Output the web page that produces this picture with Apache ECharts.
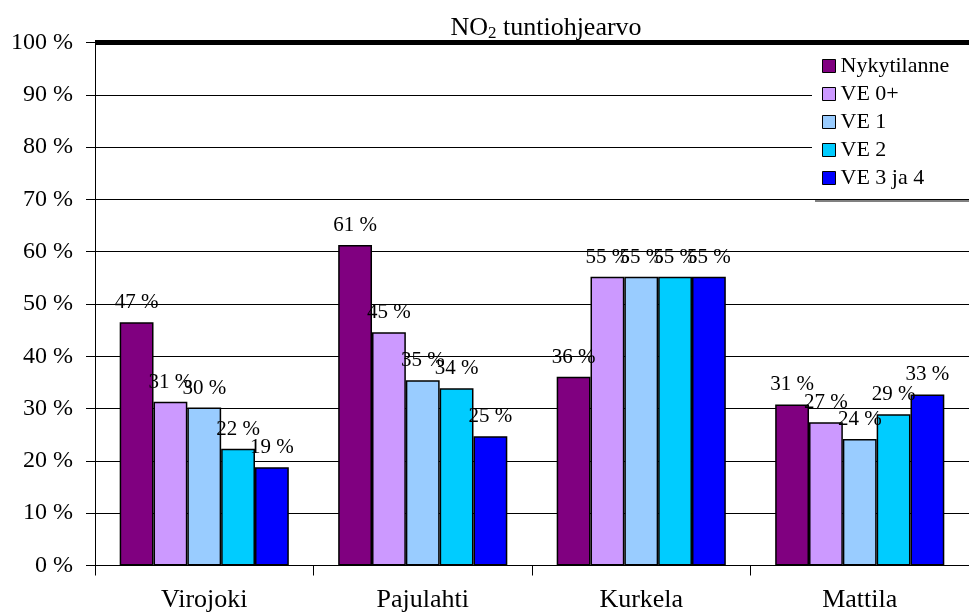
<!DOCTYPE html>
<html>
<head>
<meta charset="utf-8">
<script src="https://cdn.jsdelivr.net/npm/echarts@6/dist/echarts.min.js"></script>
<style>
  html, body { margin: 0; padding: 0; background: #fff; }
  #chart { width: 969px; height: 616px; }
</style>
</head>
<body>
<div id="chart"></div>
<script>
const categories = ['Virojoki', 'Pajulahti', 'Kurkela', 'Mattila']
const seriesNames = ['Nykytilanne', 'VE 0+', 'VE 1', 'VE 2', 'VE 3 ja 4']
const nykytilanne = [46.5, 61.3, 36.1, 30.8]
const ve0plus = [31.3, 44.6, 55.2, 27.4]
const ve1 = [30.2, 35.4, 55.2, 24.2]
const ve2 = [22.3, 33.9, 55.2, 28.9]
const ve3ja4 = [18.8, 24.7, 55.2, 32.7]
const yTicks = [0, 10, 20, 30, 40, 50, 60, 70, 80, 90, 100]
const colors = ['#800080', '#cc99ff', '#99ccff', '#00ccff', '#0000ff']

const font = 'Liberation Serif'
const values = [nykytilanne, ve0plus, ve1, ve2, ve3ja4]

let myChart = echarts.init(document.getElementById('chart'))
let option = {
  animation: false,
  color: colors,
  title: {
    text: 'NO{sub|2} tuntiohjearvo',
    left: 541,
    top: 10,
    textAlign: 'center',
    textStyle: {
      fontFamily: font,
      fontSize: 26,
      fontWeight: 'normal',
      color: '#000',
      rich: {
        sub: { fontFamily: font, fontSize: 17, color: '#000', verticalAlign: 'bottom', padding: [10, 0, 0, 0] }
      }
    }
  },
  grid: {
    left: 95,
    top: 42.5,
    width: 886,
    height: 523
  },
  legend: {
    orient: 'vertical',
    left: 812,
    top: 51,
    padding: [4, 20, 10, 10],
    backgroundColor: '#fff',
    itemWidth: 13,
    itemHeight: 13,
    itemGap: 6,
    icon: 'rect',
    itemStyle: { borderColor: '#000', borderWidth: 1 },
    textStyle: { fontFamily: font, fontSize: 22, color: '#000' },
    data: seriesNames
  },
  graphic: [
    {
      type: 'line',
      shape: { x1: 815, y1: 201, x2: 969, y2: 201 },
      style: { stroke: '#808080', lineWidth: 2 },
      z: 100
    }
  ],
  xAxis: {
    type: 'category',
    data: categories,
    axisLine: { lineStyle: { color: '#000', width: 1 } },
    axisTick: { show: true, length: 10, lineStyle: { color: '#000' } },
    axisLabel: { fontFamily: font, fontSize: 26, color: '#000', margin: 22 }
  },
  yAxis: {
    type: 'value',
    min: 0,
    max: 100,
    interval: 10,
    axisLine: { show: true, lineStyle: { color: '#000' } },
    axisTick: { show: true, length: 9, lineStyle: { color: '#000' } },
    axisLabel: {
      fontFamily: font,
      fontSize: 24,
      color: '#000',
      margin: 22,
      formatter: (val) => yTicks.includes(val) ? val + ' %' : ''
    },
    splitLine: { show: true, lineStyle: { color: '#000', width: 1 } }
  },
  series: seriesNames.map((name, i) => {
    return {
      name: name,
      type: 'bar',
      data: values[i],
      barGap: '0%',
      barCategoryGap: '22.6%',
      itemStyle: { borderColor: '#000', borderWidth: 1.5 },
      label: {
        show: true,
        position: 'top',
        distance: 9,
        fontFamily: font,
        fontSize: 21,
        color: '#000',
        formatter: (p) => Math.round(p.value) + ' %'
      },
      markLine: i === 0 ? {
        silent: true,
        symbol: 'none',
        label: { show: false },
        lineStyle: { color: '#000', width: 5, type: 'solid' },
        data: [{ yAxis: 100 }]
      } : undefined
    }
  })
}
myChart.setOption(option)
</script>
</body>
</html>
